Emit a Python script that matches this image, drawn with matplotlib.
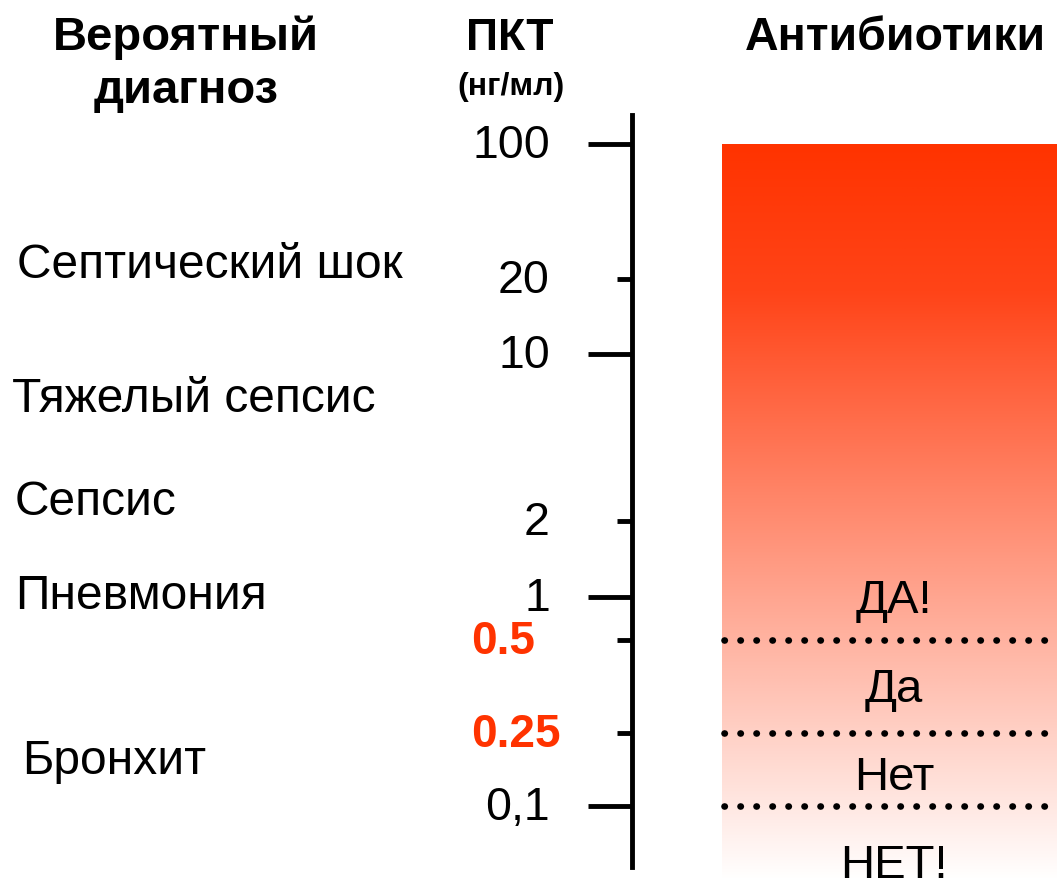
import numpy as np
import matplotlib
matplotlib.use('Agg')
import matplotlib.pyplot as plt
from matplotlib.colors import LinearSegmentedColormap
from matplotlib.transforms import offset_copy

plt.rcParams['font.family'] = ['Liberation Sans', 'DejaVu Sans']

# PCT axis (ng/ml)
major_ticks = [100, 10, 1, 0.1]
major_labels = ['100', '10', '1', '0,1']
minor_ticks = [20, 2, 0.5, 0.25]
minor_labels = ['20', '2', '0.5', '0.25']
red_labels = ['0.5', '0.25']

# antibiotic decision thresholds and top of the colour bar
cutoffs = [0.5, 0.25, 0.1]
bar_top = 100

diagnoses = ['Септический шок', 'Тяжелый сепсис', 'Сепсис', 'Пневмония', 'Бронхит']
decisions = ['ДА!', 'Да', 'Нет', 'НЕТ!']

W, H = 1057, 881
RED = '#FF3300'

# the PCT axis is drawn as a stretched log scale: piecewise linear in log10
anchor_vals = np.log10([0.1, 0.25, 0.5, 1, 2, 10, 20, 100])
anchor_rows = -np.array([806, 733, 640, 597, 521, 354, 279, 144], dtype=float)


def interp_ext(x, xp, fp):
    x = np.asarray(x, dtype=float)
    y = np.interp(x, xp, fp)
    s0 = (fp[1] - fp[0]) / (xp[1] - xp[0])
    s1 = (fp[-1] - fp[-2]) / (xp[-1] - xp[-2])
    y = np.where(x < xp[0], fp[0] + (x - xp[0]) * s0, y)
    y = np.where(x > xp[-1], fp[-1] + (x - xp[-1]) * s1, y)
    return y


def forward(v):
    v = np.maximum(np.asarray(v, dtype=float), 1e-9)
    return interp_ext(np.log10(v), anchor_vals, anchor_rows)


def inverse(t):
    return 10 ** interp_ext(t, anchor_rows, anchor_vals)


def row(y):
    # pixel row from the top -> axes fraction
    return 1 - y / H


fig = plt.figure(figsize=(W / 100, H / 100), dpi=100)
ax = fig.add_axes([0, 0, 1, 1])
ax.set_autoscale_on(False)
ax.set_xlim(0, W)
ax.set_yscale('function', functions=(forward, inverse))
ax.set_ylim(inverse(-H), inverse(0))
ax.patch.set_alpha(0)

# gradient bar from 100 down to the bottom edge
cmap = LinearSegmentedColormap.from_list('pct', [(0, RED), (0.2, '#FF4418'), (1, '#FFFFFF')])
top_frac = (ax.transScale + ax.transLimits).transform((0, bar_top))[1]
grad = np.linspace(0, 1, 512).reshape(-1, 1)
ax.imshow(grad, cmap=cmap, origin='upper', aspect='auto', interpolation='bilinear',
          extent=(722, W, 0, top_frac), transform=ax.get_xaxis_transform(), zorder=0)

# dotted threshold lines
for c in cutoffs:
    ax.plot([724, 1052], [c, c], color='black', linewidth=4.8,
            linestyle=(0, (0.05, 2.35)), dash_capstyle='round', zorder=2)

# axis with long and short ticks
for s in ['top', 'right', 'bottom']:
    ax.spines[s].set_visible(False)
ax.spines['left'].set_position(('data', 632))
ax.spines['left'].set_linewidth(3.5)
ax.spines['left'].set_bounds(inverse(-867), inverse(-115))
ax.xaxis.set_visible(False)
ax.set_yticks(major_ticks, [''] * len(major_ticks))
ax.set_yticks(minor_ticks, [''] * len(minor_ticks), minor=True)
ax.tick_params(axis='y', which='major', length=32, width=3.5, direction='out')
ax.tick_params(axis='y', which='minor', length=10.5, width=3.5, direction='out')

# tick labels
lab_tr = offset_copy(ax.transData, fig=fig, x=0, y=-14, units='dots')
for v, lab in zip(major_ticks + minor_ticks, major_labels + minor_labels):
    if lab in red_labels:
        ax.text(471, v, lab, transform=lab_tr, ha='left', va='baseline',
                fontsize=33, fontweight='bold', color=RED)
    else:
        ax.text(550, v, lab, transform=lab_tr, ha='right', va='baseline', fontsize=33.5)

xt = ax.get_xaxis_transform()

# headers
ax.text(186, row(50), 'Вероятный', transform=xt, ha='center', va='baseline',
        fontsize=34, fontweight='bold')
ax.text(186, row(103), 'диагноз', transform=xt, ha='center', va='baseline',
        fontsize=34, fontweight='bold')
ax.text(510, row(50), 'ПКТ', transform=xt, ha='center', va='baseline',
        fontsize=32, fontweight='bold')
ax.text(511, row(95), '(нг/мл)', transform=xt, ha='center', va='baseline',
        fontsize=23, fontweight='bold')
ax.text(895, row(50), 'Антибиотики', transform=xt, ha='center', va='baseline',
        fontsize=33.5, fontweight='bold')

# diagnoses on the left
diag_x = [17, 12, 15, 15, 22]
diag_base = [278, 412, 515, 609, 774]
for name, x, y in zip(diagnoses, diag_x, diag_base):
    ax.text(x, row(y), name, transform=xt, ha='left', va='baseline', fontsize=34.5)

# antibiotic decisions inside the bar
dec_base = [613, 702, 790, 878]
for name, y in zip(decisions, dec_base):
    ax.text(894, row(y), name, transform=xt, ha='center', va='baseline', fontsize=34)

fig.savefig('out.png', dpi=100)
